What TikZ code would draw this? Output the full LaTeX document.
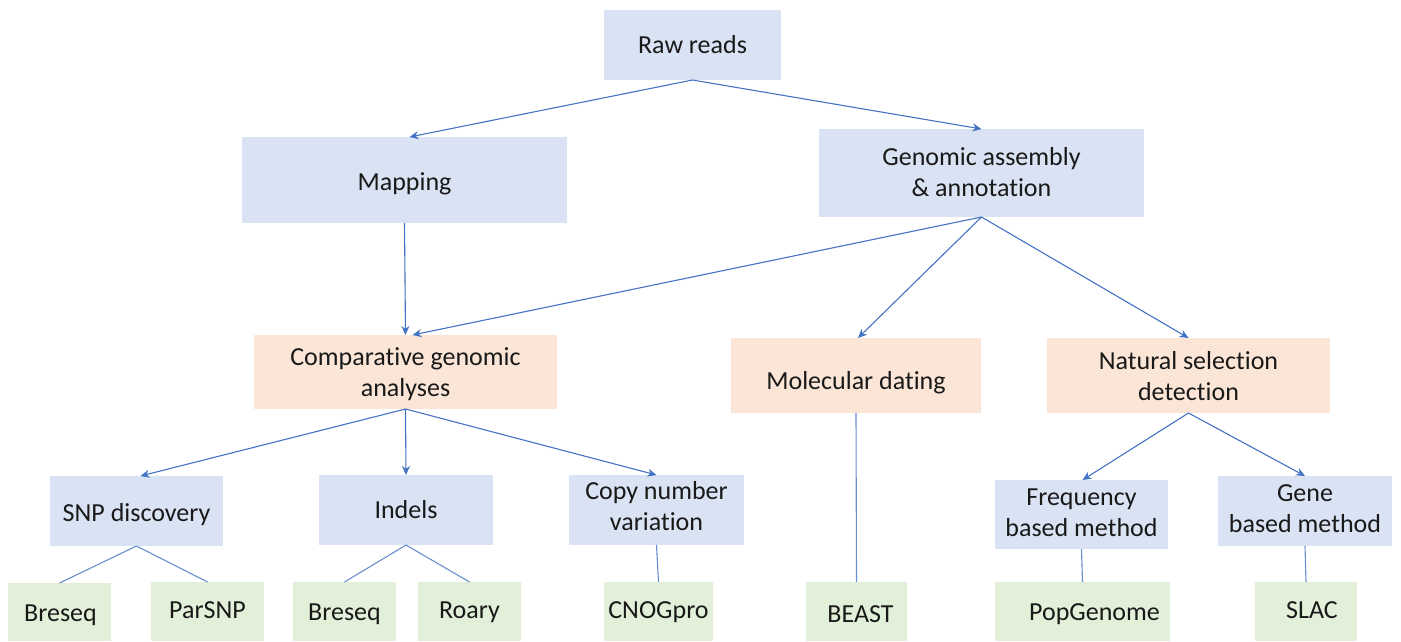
\documentclass[tikz,border=0pt]{standalone}
\usepackage{fontspec}
\setmainfont{Carlito}[Ligatures={CommonOff}]
\usetikzlibrary{arrows.meta,calc}
\definecolor{bluebox}{HTML}{DAE3F3}
\definecolor{orangebox}{HTML}{FBE5D6}
\definecolor{greenbox}{HTML}{E2F0D9}
\definecolor{linkc}{HTML}{4472C4}
\tikzset{
  box/.style={inner sep=0pt, outer sep=0pt, align=center, font=\fontsize{26}{31}\selectfont, text=black!90},
  bb/.style={box, fill=bluebox},
  ob/.style={box, fill=orangebox},
  gb/.style={box, fill=greenbox},
  arr/.style={draw=linkc, line width=1.1pt, -{Stealth[length=9pt,width=8pt]}},
  lnk/.style={draw=linkc!80, line width=1.1pt},
}
% \bx[dx,dy]{name}{style}{x1}{y1}{x2}{y2}{text}; dy positive = down
\newcommand{\bx}[8][0,0]{%
  \node[#3, minimum width={#6-#4}, minimum height={#7-#5}] (#2) at ({(#4+#6)/2},{(#5+#7)/2}) {};
  \node[box] at ($(#2.center)+(#1)$) {#8};}
\begin{document}
\begin{tikzpicture}[x=1pt,y=-1pt]
\useasboundingbox (0,0) rectangle (1401,641);
\bx{raw}{bb}{604}{10}{781}{80}{Raw reads}
\bx[0,4]{map}{bb}{242}{137}{567}{223}{Mapping}
\bx[0,-1]{gen}{bb}{819}{129}{1144}{217}{Genomic assembly\\\& annotation}
\bx[0,2]{comp}{ob}{254}{335}{557}{409}{Comparative genomic\\analyses}
\bx[0,7]{mol}{ob}{731}{338}{981}{413}{Molecular dating}
\bx[0,1]{nat}{ob}{1047}{338}{1330}{413}{Natural selection\\detection}
\bx[0,4]{snp}{bb}{50}{476}{223}{546}{SNP discovery}
\bx{ind}{bb}{319}{475}{493}{545}{Indels}
\bx[0,-4]{cnv}{bb}{569}{475}{744}{545}{Copy number\\variation}
\bx[0,-2]{freq}{bb}{995}{480}{1168}{549}{Frequency\\based method}
\bx[0,-2]{gene}{bb}{1218}{476}{1392}{546}{Gene\\based method}
\bx[1,3]{bres1}{gb}{8}{583}{111}{641}{Breseq}
\bx[0,-1]{par}{gb}{151}{582}{264}{641}{ParSNP}
\bx[0,3]{bres2}{gb}{293}{582}{396}{641}{Breseq}
\bx[0,1]{roary}{gb}{418}{582}{521}{641}{Roary}
\bx[0,1]{cnog}{gb}{604}{582}{713}{641}{CNOGpro}
\bx[4,3]{beast}{gb}{806}{582}{907}{641}{BEAST}
\bx[12,3]{pop}{gb}{995}{582}{1170}{641}{PopGenome}
\bx[6,-1]{slac}{gb}{1255}{582}{1357}{641}{SLAC}

\draw[arr] (raw.south) -- ([xshift=5pt]map.north);
\draw[arr] (raw.south) -- (gen.north);
\draw[arr] (map.south) -- (comp.north);
\draw[arr] (gen.south) -- ([xshift=7pt]comp.north);
\draw[arr] (gen.south) -- ([xshift=2pt]mol.north);
\draw[arr] (gen.south) -- (nat.north);
\draw[arr] (comp.south) -- ([xshift=4pt]snp.north);
\draw[arr] (comp.south) -- (ind.north);
\draw[arr] (comp.south) -- (cnv.north);
\draw[arr] (nat.south) -- ([xshift=1pt]freq.north);
\draw[arr] (nat.south) -- (gene.north);
\draw[lnk] (mol.south) -- (beast.north);
\draw[lnk] (snp.south) -- (bres1.north);
\draw[lnk] (snp.south) -- (par.north);
\draw[lnk] (ind.south) -- (bres2.north);
\draw[lnk] (ind.south) -- (roary.north);
\draw[lnk] (cnv.south) -- (cnog.north);
\draw[lnk] (freq.south) -- (pop.north);
\draw[lnk] (gene.south) -- (slac.north);
\end{tikzpicture}
\end{document}
